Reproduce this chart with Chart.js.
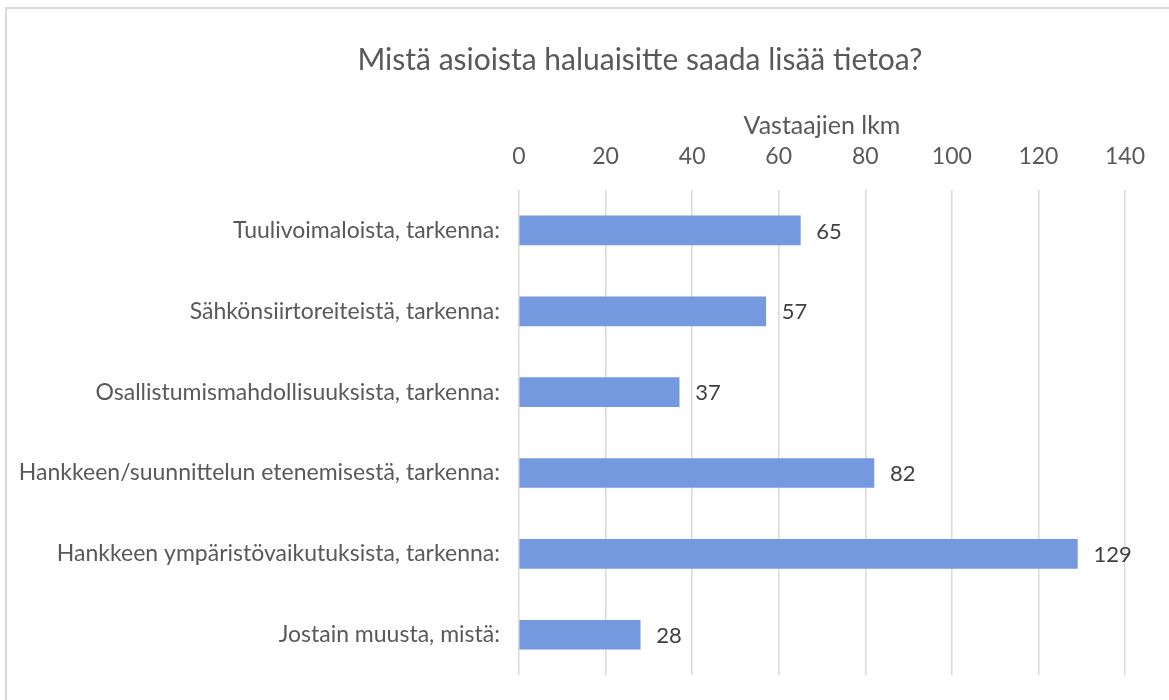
<!DOCTYPE html>
<html>
<head>
<meta charset="utf-8">
<script src="https://cdn.jsdelivr.net/npm/chart.js@4"></script>
<style>
  html, body { margin: 0; padding: 0; background: #fff; }
  #wrap { width: 1169px; height: 700px; position: relative; }
</style>
</head>
<body>
<div id="wrap"><canvas id="myChart" width="1169" height="700"></canvas></div>
<script>
var categories = [
  "Tuulivoimaloista, tarkenna:",
  "Sähkönsiirtoreiteistä, tarkenna:",
  "Osallistumismahdollisuuksista, tarkenna:",
  "Hankkeen/suunnittelun etenemisestä, tarkenna:",
  "Hankkeen ympäristövaikutuksista, tarkenna:",
  "Jostain muusta, mistä:"
];
var values = [65, 57, 37, 82, 129, 28];
var tickValues = [0, 20, 40, 60, 80, 100, 120, 140];
var chartTitle = 'Mistä asioista haluaisitte saada lisää tietoa?';

var FONT = "Lato, sans-serif";

// frame round the whole chart + the title (the original frame is cut on the right,
// so the title sits right of the canvas centre)
var framePlugin = {
  id: 'frame',
  beforeDraw: function(chart) {
    var c = chart.ctx;
    c.save();
    c.fillStyle = '#fff';
    c.fillRect(0, 0, chart.width, chart.height);
    c.strokeStyle = '#d9d9d9';
    c.lineWidth = 2;
    c.strokeRect(6, 8, chart.width + 10, chart.height + 10);
    c.restore();
  },
  afterDraw: function(chart) {
    var c = chart.ctx;
    c.save();
    c.font = "30px " + FONT;
    c.fillStyle = '#595959';
    c.textAlign = 'center';
    c.textBaseline = 'middle';
    c.fillText(chartTitle, 640, 60);
    c.restore();
  }
};

// value labels at the end of each bar
var valueLabels = {
  id: 'valueLabels',
  afterDatasetsDraw: function(chart) {
    var c = chart.ctx;
    var meta = chart.getDatasetMeta(0);
    c.save();
    c.font = "22px " + FONT;
    c.fillStyle = '#404040';
    c.textAlign = 'left';
    c.textBaseline = 'middle';
    meta.data.forEach(function(bar, i) {
      c.fillText(values[i], bar.x + 16, bar.y + 1);
    });
    c.restore();
  }
};

var ctx = document.getElementById('myChart').getContext('2d');
var chart = new Chart(ctx, {
  type: 'bar',
  data: {
    labels: categories,
    datasets: [{
      data: values,
      backgroundColor: '#7599de',
      borderWidth: 0,
      barThickness: 29
    }]
  },
  options: {
    indexAxis: 'y',
    responsive: false,
    animation: false,
    layout: { padding: { left: 0, right: 44, top: 78, bottom: 22 } },
    plugins: {
      legend: { display: false },
      tooltip: { enabled: false },
      title: { display: false }
    },
    scales: {
      x: {
        position: 'top',
        min: 0,
        max: 140,
        afterBuildTicks: function(scale) {
          scale.ticks = tickValues.map(function(v) { return { value: v }; });
        },
        afterFit: function(scale) { scale.height = 112; },
        grid: { color: '#d9d9d9', lineWidth: 1.5, drawTicks: false },
        border: { display: false },
        ticks: { color: '#595959', padding: 20, font: { family: FONT, size: 23 } },
        title: {
          display: true,
          text: 'Vastaajien lkm',
          color: '#595959',
          font: { family: FONT, size: 25 },
          padding: { top: 33, bottom: 0 }
        }
      },
      y: {
        afterFit: function(scale) { scale.width = 519; },
        grid: { display: false },
        border: { display: false },
        ticks: { color: '#595959', padding: 11, font: { family: FONT, size: 23 } }
      }
    }
  },
  plugins: [framePlugin, valueLabels]
});
</script>
</body>
</html>
